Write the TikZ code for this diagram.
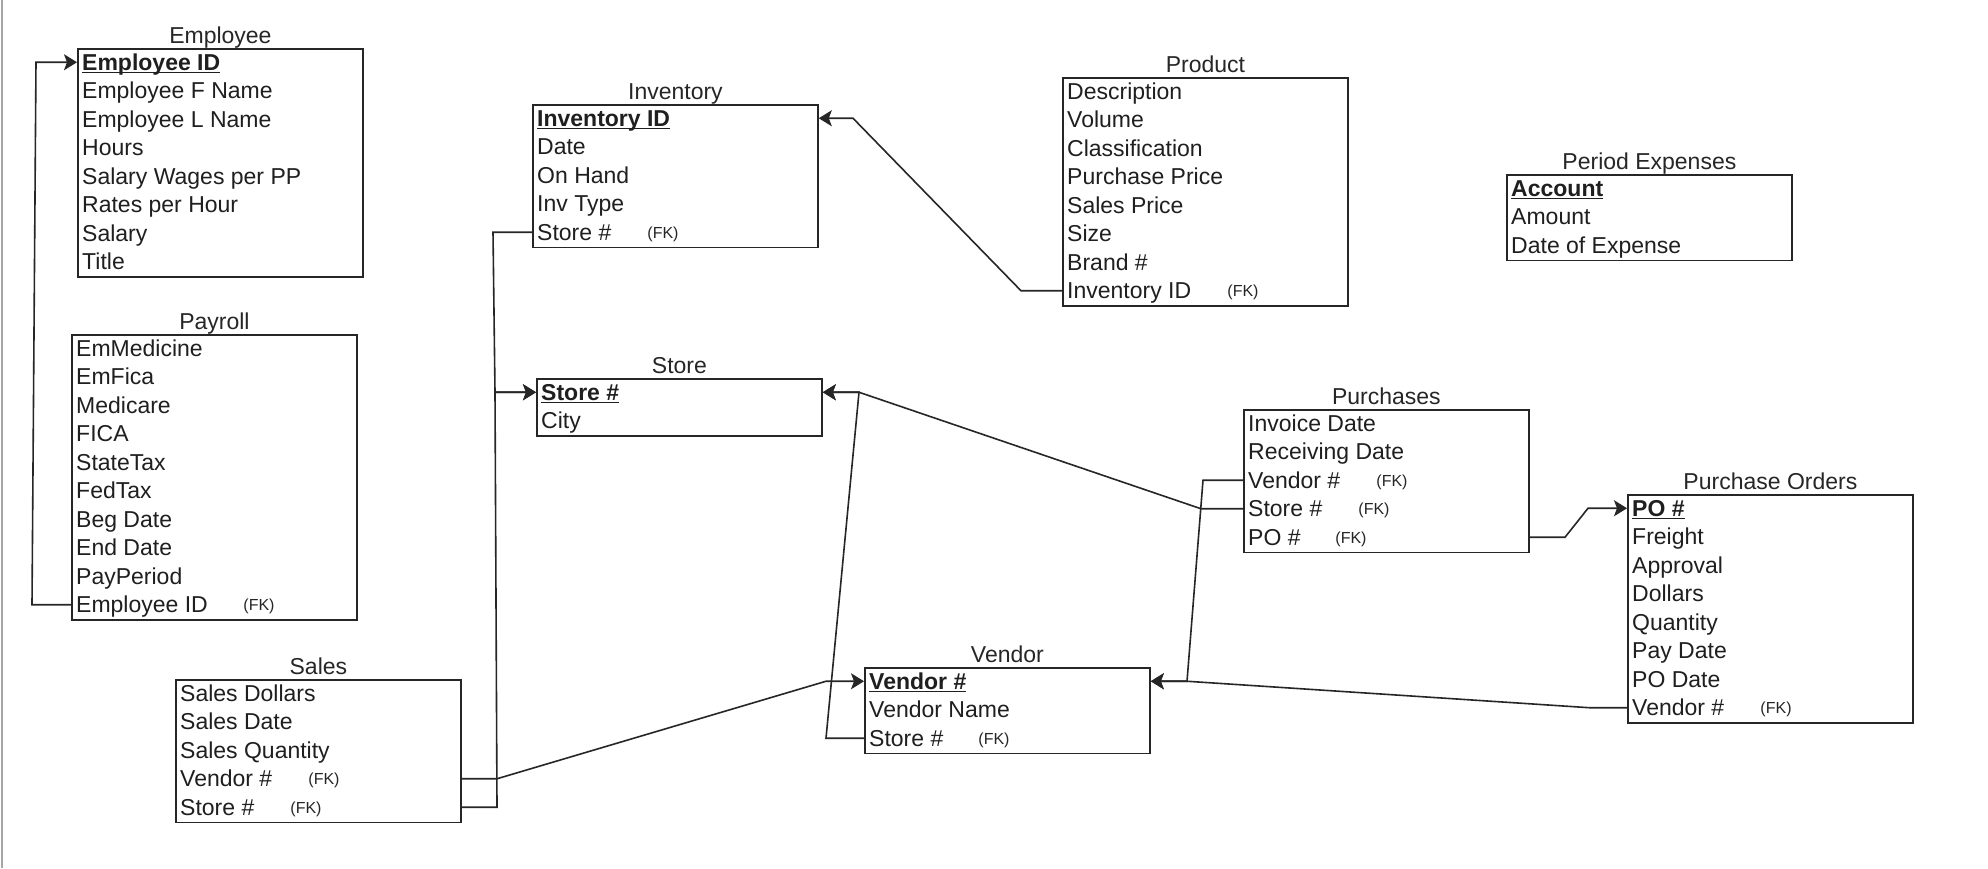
\documentclass[tikz,border=0pt]{standalone}
\usepackage{fontspec}
\setmainfont{Liberation Sans}
\usetikzlibrary{arrows.meta}
\newcommand\pkey[1]{\setbox0\hbox{\bfseries #1}\rlap{\rule[-3pt]{\wd0}{1.4pt}}\box0}
\tikzset{
  entbox/.style={draw=black!85, line width=1.8pt, minimum width=285pt, inner sep=0pt, anchor=north west},
  ttltxt/.style={font=\fontsize{23pt}{27pt}\selectfont, text=black!85, anchor=base, inner sep=0pt},
  fldtxt/.style={font=\fontsize{23pt}{27pt}\selectfont, text=black!88, anchor=west, inner sep=0pt, text height=16pt, text depth=0pt},
  fktxt/.style={font=\fontsize{16pt}{19pt}\selectfont, text=black!85, anchor=center, inner sep=0pt, text height=11.5pt, text depth=0pt},
  conn/.style={draw=black!85, line width=1.6pt},
  arr/.style={conn, -{Stealth[length=13pt,width=16pt,inset=3pt]}},
}
\newcommand\mkent[5]{%
  \node[entbox, minimum height={#4*28.5pt}] (#1) at (#2,#3) {};
  \node[ttltxt] (#1-t) at ([yshift=5pt]#1.north) {#5};}
\newcommand\mkfld[3]{%
  \node[fldtxt] (#1-#2) at ([xshift=5pt,yshift={(0.5-#2)*28.5pt}]#1.north west) {#3};}
\begin{document}
\begin{tikzpicture}[x=1pt,y=-1pt]
\useasboundingbox (0,0) rectangle (1988,868);
\fill[white] (0,0) rectangle (1988,868);
\draw[black!35, line width=2pt] (2,0) -- (2,868);

% Employee
\mkent{emp}{77}{48}{8}{Employee}
\mkfld{emp}{1}{\pkey{Employee ID}}
\mkfld{emp}{2}{Employee F Name}
\mkfld{emp}{3}{Employee L Name}
\mkfld{emp}{4}{Hours}
\mkfld{emp}{5}{Salary Wages per PP}
\mkfld{emp}{6}{Rates per Hour}
\mkfld{emp}{7}{Salary}
\mkfld{emp}{8}{Title}

% Payroll
\mkent{pay}{71}{334}{10}{Payroll}
\mkfld{pay}{1}{EmMedicine}
\mkfld{pay}{2}{EmFica}
\mkfld{pay}{3}{Medicare}
\mkfld{pay}{4}{FICA}
\mkfld{pay}{5}{StateTax}
\mkfld{pay}{6}{FedTax}
\mkfld{pay}{7}{Beg Date}
\mkfld{pay}{8}{End Date}
\mkfld{pay}{9}{PayPeriod}
\mkfld{pay}{10}{Employee ID}
\node[fktxt] (pay-fk) at (pay-10 -| 259,0) {(FK)};

% Inventory
\mkent{inv}{532}{104}{5}{Inventory}
\mkfld{inv}{1}{\pkey{Inventory ID}}
\mkfld{inv}{2}{Date}
\mkfld{inv}{3}{On Hand}
\mkfld{inv}{4}{Inv Type}
\mkfld{inv}{5}{Store \#}
\node[fktxt] (inv-fk) at (inv-5 -| 663,0) {(FK)};

% Store
\mkent{sto}{536}{378}{2}{Store}
\mkfld{sto}{1}{\pkey{Store \#}}
\mkfld{sto}{2}{City}

% Product
\mkent{pro}{1062}{77}{8}{Product}
\mkfld{pro}{1}{Description}
\mkfld{pro}{2}{Volume}
\mkfld{pro}{3}{Classification}
\mkfld{pro}{4}{Purchase Price}
\mkfld{pro}{5}{Sales Price}
\mkfld{pro}{6}{Size}
\mkfld{pro}{7}{Brand \#}
\mkfld{pro}{8}{Inventory ID}
\node[fktxt] (pro-fk) at (pro-8 -| 1243,0) {(FK)};

% Period Expenses
\mkent{per}{1506}{174}{3}{Period Expenses}
\mkfld{per}{1}{\pkey{Account}}
\mkfld{per}{2}{Amount}
\mkfld{per}{3}{Date of Expense}

% Purchases
\mkent{pur}{1243}{409}{5}{Purchases}
\mkfld{pur}{1}{Invoice Date}
\mkfld{pur}{2}{Receiving Date}
\mkfld{pur}{3}{Vendor \#}
\mkfld{pur}{4}{Store \#}
\mkfld{pur}{5}{PO \#}
\node[fktxt] (pur-fk3) at (pur-3 -| 1392,0) {(FK)};
\node[fktxt] (pur-fk4) at (pur-4 -| 1374,0) {(FK)};
\node[fktxt] (pur-fk5) at (pur-5 -| 1351,0) {(FK)};

% Purchase Orders
\mkent{po}{1627}{494}{8}{Purchase Orders}
\mkfld{po}{1}{\pkey{PO \#}}
\mkfld{po}{2}{Freight}
\mkfld{po}{3}{Approval}
\mkfld{po}{4}{Dollars}
\mkfld{po}{5}{Quantity}
\mkfld{po}{6}{Pay Date}
\mkfld{po}{7}{PO Date}
\mkfld{po}{8}{Vendor \#}
\node[fktxt] (po-fk) at (po-8 -| 1776,0) {(FK)};

% Vendor
\mkent{ven}{864}{667}{3}{Vendor}
\mkfld{ven}{1}{\pkey{Vendor \#}}
\mkfld{ven}{2}{Vendor Name}
\mkfld{ven}{3}{Store \#}
\node[fktxt] (ven-fk) at (ven-3 -| 994,0) {(FK)};

% Sales
\mkent{sal}{175}{679}{5}{Sales}
\mkfld{sal}{1}{Sales Dollars}
\mkfld{sal}{2}{Sales Date}
\mkfld{sal}{3}{Sales Quantity}
\mkfld{sal}{4}{Vendor \#}
\mkfld{sal}{5}{Store \#}
\node[fktxt] (sal-fk4) at (sal-4 -| 324,0) {(FK)};
\node[fktxt] (sal-fk5) at (sal-5 -| 306,0) {(FK)};

% Connectors
\draw[arr] (pay-10 -| pay.west) -- (pay-10 -| 32,0) -- (emp-1 -| 36,0) -- (emp-1 -| emp.west);
\draw[arr] (inv-5 -| inv.west) -- (inv-5 -| 493,0) -- (sto-1 -| 495,0) -- (sto-1 -| sto.west);
\draw[arr] (sal-5 -| sal.east) -- (sal-5 -| 497,0) -- (sto-1 -| 495,0) -- (sto-1 -| sto.west);
\draw[arr] (sal-4 -| sal.east) -- (sal-4 -| 497,0) -- (ven-1 -| 826,0) -- (ven-1 -| ven.west);
\draw[arr] (pro-8 -| pro.west) -- (pro-8 -| 1021,0) -- (inv-1 -| 853,0) -- (inv-1 -| inv.east);
\draw[arr] (pur-4 -| pur.west) -- (pur-4 -| 1201,0) -- (sto-1 -| 859,0) -- (sto-1 -| sto.east);
\draw[arr] (ven-3 -| ven.west) -- (ven-3 -| 826,0) -- (sto-1 -| 859,0) -- (sto-1 -| sto.east);
\draw[arr] (pur-3 -| pur.west) -- (pur-3 -| 1203,0) -- (ven-1 -| 1187,0) -- (ven-1 -| ven.east);
\draw[arr] (po-8 -| po.west) -- (po-8 -| 1590,0) -- (ven-1 -| 1187,0) -- (ven-1 -| ven.east);
\draw[arr] (pur-5 -| pur.east) -- (pur-5 -| 1565,0) -- (po-1 -| 1588,0) -- (po-1 -| po.west);
\end{tikzpicture}
\end{document}
